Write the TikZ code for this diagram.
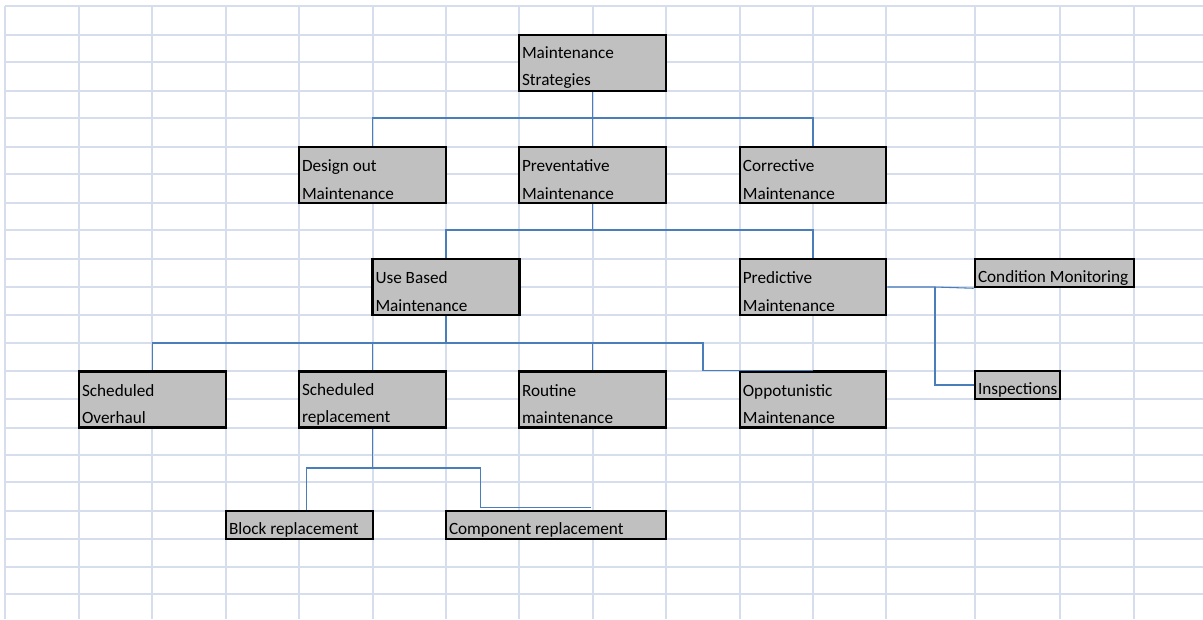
\documentclass[tikz,border=0pt]{standalone}
\usepackage{fontspec}
\setmainfont{Carlito}

\definecolor{gridline}{RGB}{214,221,236}
\definecolor{cellfill}{RGB}{192,192,192}
\definecolor{linkblue}{RGB}{74,126,187}

\tikzset{
  cell/.style={draw=black, line width=1.9pt, fill=cellfill, inner xsep=2.25pt, inner ysep=0pt,
    align=flush left, text width=#1, font={\fontsize{12.9}{20.6}\selectfont},
    execute at begin node={\rule{0pt}{16pt}}},
  twoline/.style={cell=#1, minimum height=42pt},
  oneline/.style={cell=#1, minimum height=21pt},
  link/.style={draw=linkblue, line width=0.8pt}
}

\begin{document}
\begin{tikzpicture}[x=0.75pt,y=-0.75pt]
  \useasboundingbox (0,0) rectangle (1203,619);

  % sheet grid
  \foreach \gx in {5,79,152,226,299,373,446,519,593,666,740,813,886,975,1060,1134}
    \draw[gridline, line width=1pt] (\gx,6) -- (\gx,619);
  \foreach \gy in {6,35,62,91,118,147,174,203,230,259,287,315,343,371,399,428,455,482,511,539,567,594}
    \draw[gridline, line width=1pt] (5,\gy) -- (1203,\gy);

  \node[twoline=105.75pt] (ms) at (592.5,63) {Maintenance\\Strategies};

  \node[twoline=105.75pt] (dom) at (372.5,175) {Design out\\Maintenance};
  \node[twoline=105.75pt] (pm) at (592.5,175) {Preventative\\Maintenance};
  \node[twoline=105.25pt] (cm) at (813,175) {Corrective\\Maintenance};

  \node[twoline=105.75pt] (ubm) at (446,287) {Use Based\\Maintenance};
  \node[twoline=105.25pt] (pdm) at (813,287) {Predictive\\Maintenance};
  \node[oneline=114.75pt] (condmon) at (1054.5,273) {Condition~Monitoring};
  \node[oneline=59.25pt] (insp) at (1017.5,385) {Inspections};

  \node[twoline=105.75pt] (so) at (152.5,399.5) {Scheduled\\Overhaul};
  \node[twoline=105.75pt] (sr) at (372.5,399.5) {Scheduled\\replacement};
  \node[twoline=105.75pt] (rm) at (592.5,399.5) {Routine\\maintenance};
  \node[twoline=105.25pt] (om) at (813,399.5) {Oppotunistic\\Maintenance};

  \node[oneline=105.75pt] (br) at (299.5,525) {Block~replacement};
  \node[oneline=160.5pt] (cr) at (556,525) {Component~replacement};

  % connectors
  \coordinate (bus1) at (592.5,118);
  \coordinate (bus2) at (592.5,230);
  \coordinate (bus3) at (446,343);
  \coordinate (jog) at (703,343);
  \coordinate (bus4) at (372.5,468);
  \coordinate (split) at (935,287);

  \draw[link] (ms.south) -- (bus1);
  \draw[link] (dom.north) |- (bus1);
  \draw[link] (pm.north) -- (bus1);
  \draw[link] (cm.north) |- (bus1);

  \draw[link] (pm.south) -- (bus2);
  \draw[link] (ubm.north) |- (bus2);
  \draw[link] (pdm.north) |- (bus2);

  \draw[link] (ubm.south) -- (bus3);
  \draw[link] (so.north) |- (bus3);
  \draw[link] (sr.north) |- (bus3);
  \draw[link] (rm.north) |- (bus3);
  \draw[link] (om.north) -- (om.north -| jog) -- (jog) -- (rm.north |- jog);

  \draw[link] (pdm.east) -- (split) -- (condmon.south west);
  \draw[link] (split) |- (insp.west);

  \draw[link] (sr.south) -- (bus4);
  \draw[link] ([xshift=5.25pt]br.north) |- (bus4);
  \draw[link] (bus4) -| ([xshift=27pt,yshift=1.5pt]cr.north west) -- ([xshift=109.5pt,yshift=1.5pt]cr.north west);
\end{tikzpicture}
\end{document}
